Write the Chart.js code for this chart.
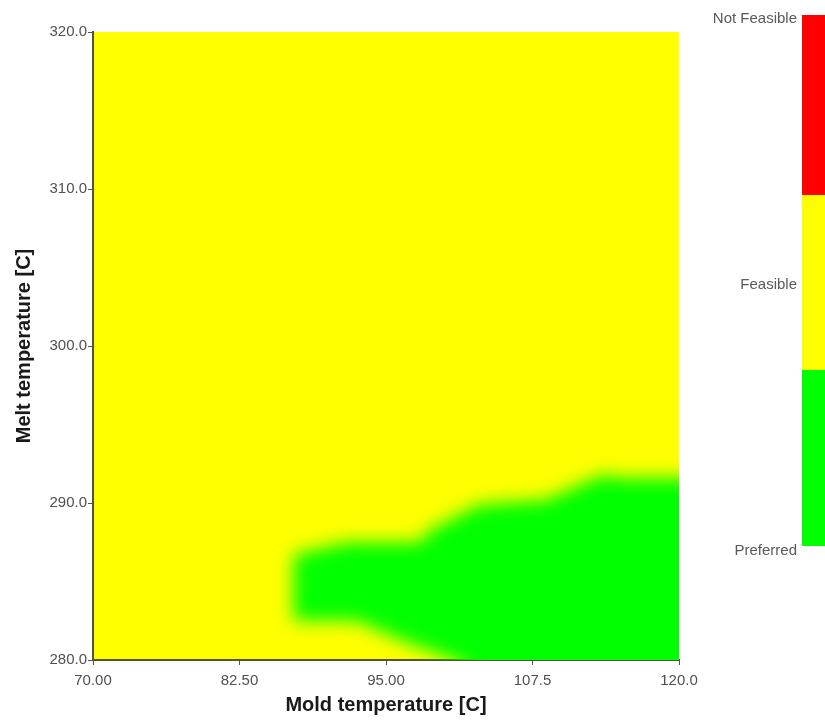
<!DOCTYPE html>
<html>
<head>
<meta charset="utf-8">
<script src="https://cdn.jsdelivr.net/npm/chart.js@4.4.1/dist/chart.umd.min.js"></script>
<style>
  body { margin: 0; background: #fff; }
  #wrap { width: 825px; height: 725px; }
</style>
</head>
<body>
<div id="wrap"><canvas id="regionChart" width="825" height="725"></canvas></div>
<script>
// Axis ticks
let xTicks = [70, 82.5, 95, 107.5, 120];
let xTickLabels = ["70.00", "82.50", "95.00", "107.5", "120.0"];
let yTicks = [280, 290, 300, 310, 320];
let yTickLabels = ["280.0", "290.0", "300.0", "310.0", "320.0"];

// Outline of the "Preferred" (green) region
let preferredX = [121.8, 115.0, 113.5, 108.7, 103.0, 98.8, 97.9, 91.7, 87.1, 87.1, 92.5, 96.5, 101.5, 103.0, 121.8, 121.8];
let preferredY = [291.6, 291.6, 291.8, 290.2, 289.9, 288.3, 287.5, 287.5, 286.7, 282.5, 282.5, 281.2, 279.8, 278.5, 278.5, 291.6];

// Colour bar legend
let levelNames = ["Not Feasible", "Feasible", "Preferred"];
let levelColors = ["#ff0000", "#ffff00", "#00ff00"];

let preferredPoints = preferredX.map((x, i) => ({ x: x, y: preferredY[i] }));

// Yellow background + soft edges for the region
const regionPlugin = {
    id: "regionPlugin",
    beforeDraw(chart) {
        const { ctx, chartArea } = chart;
        ctx.save();
        ctx.fillStyle = levelColors[1];
        ctx.fillRect(chartArea.left, chartArea.top, chartArea.right - chartArea.left, chartArea.bottom - chartArea.top);
        ctx.restore();
    },
    beforeDatasetsDraw(chart) {
        chart.ctx.save();
        chart.ctx.filter = "blur(9px)";
    },
    afterDatasetsDraw(chart) {
        chart.ctx.restore();
    }
};

// Colour bar on the right
const colorBarPlugin = {
    id: "colorBarPlugin",
    afterDraw(chart) {
        const ctx = chart.ctx;
        const bars = [[15, 195], [195, 370], [370, 546]];
        ctx.save();
        bars.forEach((b, i) => {
            ctx.fillStyle = levelColors[i];
            ctx.fillRect(802, b[0], 23, b[1] - b[0]);
        });
        ctx.fillStyle = "#5a5a5a";
        ctx.font = "15px 'Liberation Sans', Arial, sans-serif";
        ctx.textAlign = "right";
        ctx.textBaseline = "middle";
        ctx.fillText(levelNames[0], 797, 19);
        ctx.fillText(levelNames[1], 797, 285);
        ctx.fillText(levelNames[2], 797, 551);
        ctx.restore();
    }
};

let tickFont = { family: "'Liberation Sans Narrow', 'Liberation Sans', Arial, sans-serif", size: 15 };
let titleFont = { family: "'Liberation Sans', Arial, sans-serif", size: 20, weight: "bold" };

let ctx = document.getElementById("regionChart").getContext("2d");
new Chart(ctx, {
    type: "scatter",
    data: {
        datasets: [
            {
                label: "Preferred",
                data: preferredPoints,
                showLine: true,
                fill: "shape",
                backgroundColor: levelColors[2],
                borderWidth: 0,
                pointRadius: 0,
                tension: 0,
            },
        ],
    },
    options: {
        responsive: false,
        animation: false,
        layout: { padding: { left: 0, right: 146, top: 32, bottom: 0 } },
        plugins: {
            legend: { display: false },
            tooltip: { enabled: false },
        },
        scales: {
            x: {
                type: "linear",
                min: 70,
                max: 120,
                afterBuildTicks: (scale) => { scale.ticks = xTicks.map((v) => ({ value: v })); },
                afterFit: (scale) => { scale.height = 65; },
                ticks: {
                    autoSkip: false,
                    maxRotation: 0,
                    color: "#505050",
                    font: tickFont,
                    padding: 7,
                    callback: (v, i) => xTickLabels[i],
                },
                grid: { drawOnChartArea: false, drawTicks: true, tickLength: 5, color: "#555" },
                border: { display: true, color: "#55552a", width: 2 },
                title: { display: true, text: "Mold temperature [C]", color: "#1a1a1a", font: titleFont, padding: { top: 0, bottom: 8 } },
            },
            y: {
                type: "linear",
                min: 280,
                max: 320,
                afterBuildTicks: (scale) => { scale.ticks = yTicks.map((v) => ({ value: v })); },
                afterFit: (scale) => { scale.width = 93; },
                ticks: {
                    autoSkip: false,
                    color: "#505050",
                    font: tickFont,
                    padding: 1,
                    callback: (v, i) => yTickLabels[i],
                },
                grid: { drawOnChartArea: false, drawTicks: true, tickLength: 5, color: "#555" },
                border: { display: true, color: "#55552a", width: 2 },
                title: { display: true, text: "Melt temperature [C]", color: "#1a1a1a", font: titleFont, padding: { top: 12, bottom: 0 } },
            },
        },
    },
    plugins: [regionPlugin, colorBarPlugin],
});
</script>
</body>
</html>
